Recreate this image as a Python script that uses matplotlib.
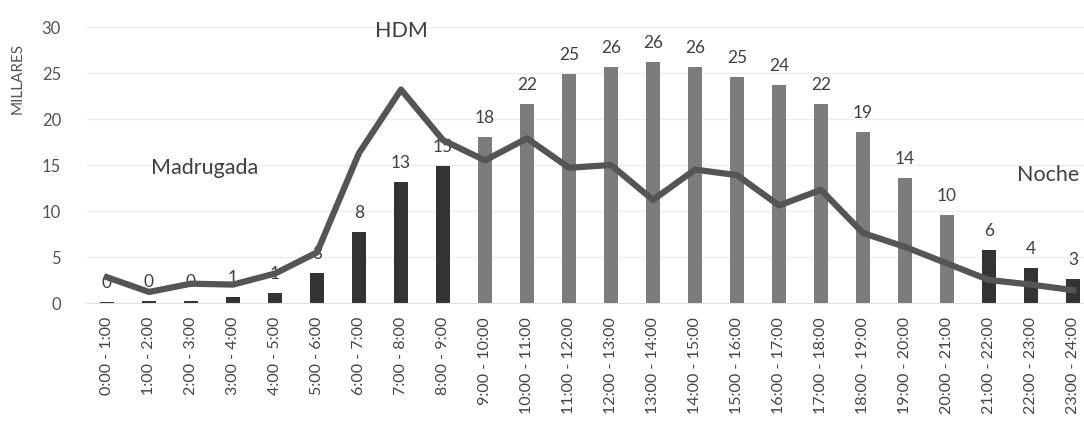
import matplotlib
matplotlib.use('Agg')
import matplotlib.pyplot as plt
import numpy as np

plt.rcParams['font.family'] = ['Lato', 'DejaVu Sans']

# Franjas horarias
franjas = ['0:00 - 1:00', '1:00 - 2:00', '2:00 - 3:00', '3:00 - 4:00', '4:00 - 5:00',
           '5:00 - 6:00', '6:00 - 7:00', '7:00 - 8:00', '8:00 - 9:00', '9:00 - 10:00',
           '10:00 - 11:00', '11:00 - 12:00', '12:00 - 13:00', '13:00 - 14:00',
           '14:00 - 15:00', '15:00 - 16:00', '16:00 - 17:00', '17:00 - 18:00',
           '18:00 - 19:00', '19:00 - 20:00', '20:00 - 21:00', '21:00 - 22:00',
           '22:00 - 23:00', '23:00 - 24:00']

# Barras (millares)
barras = [0.1, 0.2, 0.2, 0.6, 1.1, 3.3, 7.7, 13.2, 14.9, 18.0, 21.6, 24.9,
          25.7, 26.2, 25.7, 24.6, 23.7, 21.6, 18.6, 13.6, 9.6, 5.8, 3.8, 2.6]
etiquetas = ['0', '0', '0', '1', '1', '3', '8', '13', '15', '18', '22', '25',
             '26', '26', '26', '25', '24', '22', '19', '14', '10', '6', '4', '3']

# Linea (millares)
linea = [2.8, 1.2, 2.1, 2.0, 3.2, 5.5, 16.3, 23.2, 17.7, 15.5, 17.9, 14.7,
         15.0, 11.2, 14.5, 13.9, 10.6, 12.3, 7.6, 6.1, 4.3, 2.5, 2.0, 1.4]

# franja oscura = madrugada/HDM/noche
oscuro = [True] * 9 + [False] * 12 + [True] * 3

fig = plt.figure(figsize=(10.84, 4.47), dpi=100)
ax = fig.add_axes([86 / 1084, 144 / 447, 1008 / 1084, 276 / 447])

x = np.arange(len(franjas))
colores = ['#333333' if o else '#7c7c7c' for o in oscuro]
ax.bar(x, barras, width=0.32, color=colores, zorder=2)
ax.plot(x, linea, color='#555555', linewidth=4.5, solid_joinstyle='round', zorder=4)

for xi, v, t in zip(x, barras, etiquetas):
    ax.text(xi, v + 1.2, t, ha='center', va='bottom', fontsize=12.5, color='#404040', zorder=3)

ax.text(7.0, 29.6, 'HDM', ha='center', va='center', fontsize=15.5, color='#404040')
ax.text(2.33, 14.7, 'Madrugada', ha='center', va='center', fontsize=15.5, color='#404040')
ax.text(22.4, 13.9, 'Noche', ha='center', va='center', fontsize=15.5, color='#404040')

ax.set_xlim(-0.5, 23.5)
ax.set_ylim(0, 30)
ax.set_yticks(range(0, 31, 5))
ax.set_xticks(x)
ax.set_xticklabels(franjas, rotation=90, fontsize=11.5, color='#444444')
ax.tick_params(axis='both', length=0)
ax.tick_params(axis='y', labelsize=12, colors='#555555', pad=18)
ax.tick_params(axis='x', pad=10)
ax.grid(axis='y', color='#ececec', linewidth=1, zorder=0)
for s in ['top', 'right', 'left']:
    ax.spines[s].set_visible(False)
ax.spines['bottom'].set_color('#e0e0e0')

fig.text(18 / 1084, 1 - 78 / 447, 'MILLARES', rotation=90, ha='center', va='center',
         fontsize=11, color='#555555')

fig.savefig('out.png', dpi=100)
